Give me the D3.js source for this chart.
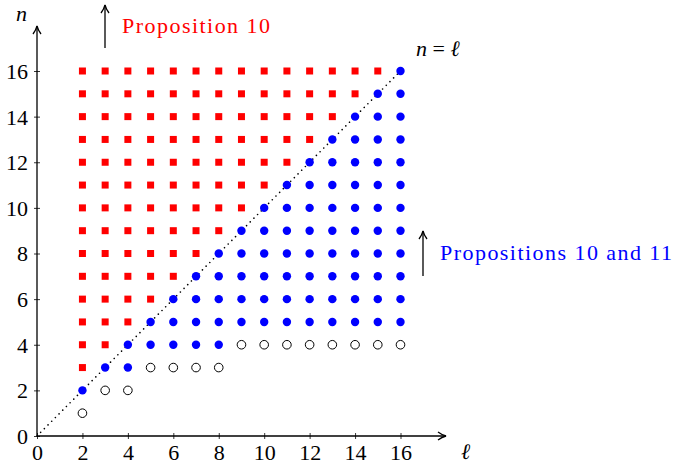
<!DOCTYPE html>
<html><head><meta charset="utf-8">
<script src="https://cdn.jsdelivr.net/npm/d3@7"></script>
<style>body{margin:0;background:#fff}svg{display:block}</style>
</head><body>
<div id="c"></div>
<script>
// Data
const ells      = [2,3,4,5,6,7,8,9,10,11,12,13,14,15,16];
const openN     = [1,2,2,3,3,3,3,4,4,4,4,4,4,4,4];        // open circles (one per ℓ)
const blueFrom  = [2,3,3,4,4,4,4,5,5,5,5,5,5,5,5];        // filled blue dots from ...
const blueTo    = [2,3,4,5,6,7,8,9,10,11,12,13,14,15,16]; // ... to n = ℓ
const redFrom   = [3,4,5,6,7,8,9,10,11,12,13,14,15,16,17]; // red squares from ...
const redTo     = 16;                                       // ... up to n = 16
const xTicks    = [0,2,4,6,8,10,12,14,16];
const yTicks    = [0,2,4,6,8,10,12,14,16];

const FONT="'Liberation Serif', 'DejaVu Serif', serif";
const W=673,H=466;
const svg=d3.select("#c").append("svg").attr("width",W).attr("height",H)
  .style("font-family",FONT,"important");
const x=d3.scaleLinear().domain([0,16]).range([37,400.5]);
const y=d3.scaleLinear().domain([0,16]).range([436,71]);

const defs=svg.append("defs");
defs.append("marker").attr("id","ah").attr("viewBox","0 0 10 10").attr("refX",9).attr("refY",5)
  .attr("markerWidth",10).attr("markerHeight",10).attr("markerUnits","userSpaceOnUse").attr("orient","auto")
  .append("path").attr("d","M1,1 Q5,4 9,5 Q5,6 1,9").attr("fill","none").attr("stroke","#000").attr("stroke-width",1.3);

// build point lists
const red=[],blue=[],open=[];
ells.forEach((l,i)=>{
  for(let n=redFrom[i];n<=redTo;n++) red.push([l,n]);
  for(let n=blueFrom[i];n<=blueTo[i];n++) blue.push([l,n]);
  open.push([l,openN[i]]);
});

// diagonal n = ℓ
svg.append("line").attr("x1",x(0)).attr("y1",y(0)).attr("x2",x(16)).attr("y2",y(16))
  .attr("stroke","#000").attr("stroke-width",1.6).attr("stroke-dasharray","0.01 5.2").attr("stroke-linecap","round");

// axes
const xAxis=d3.axisBottom(x).tickValues(xTicks).tickSize(0).tickPadding(10);
const yAxis=d3.axisLeft(y).tickValues(yTicks).tickSize(0).tickPadding(10);
const gx=svg.append("g").attr("transform",`translate(0,${y(0)})`).call(xAxis);
const gy=svg.append("g").attr("transform",`translate(${x(0)},0)`).call(yAxis);
[gx,gy].forEach(g=>{g.attr("font-family",null).attr("font-size",null);g.select(".domain").remove();
  g.selectAll("text").attr("fill","#000");});
gx.selectAll("text").attr("dy","0.71em").attr("y",8);
gy.selectAll("text").attr("x",-9).attr("dy","0.34em");
// small tick marks
gx.selectAll(".tick").append("line").attr("y1",-3).attr("y2",3).attr("stroke","#000").attr("stroke-width",0.8);
gy.selectAll(".tick").append("line").attr("x1",-3).attr("x2",3).attr("stroke","#000").attr("stroke-width",0.8);

svg.append("line").attr("x1",x(0)).attr("y1",y(0)).attr("x2",446).attr("y2",y(0))
  .attr("stroke","#000").attr("stroke-width",1.3).attr("marker-end","url(#ah)");
svg.append("line").attr("x1",x(0)).attr("y1",y(0)).attr("x2",x(0)).attr("y2",26)
  .attr("stroke","#000").attr("stroke-width",1.3).attr("marker-end","url(#ah)");
svg.append("text").attr("x",461).attr("y",459).attr("font-style","italic").text("ℓ");
svg.append("text").attr("x",16).attr("y",21).attr("font-style","italic").text("n");

// marks
svg.append("g").selectAll("rect").data(red).join("rect")
  .attr("x",d=>x(d[0])-3.5).attr("y",d=>y(d[1])-3.5).attr("width",7).attr("height",7).attr("fill","#ff0000");
svg.append("g").selectAll("circle").data(blue).join("circle")
  .attr("cx",d=>x(d[0])).attr("cy",d=>y(d[1])).attr("r",4.2).attr("fill","#0000ff");
svg.append("g").selectAll("circle").data(open).join("circle")
  .attr("cx",d=>x(d[0])).attr("cy",d=>y(d[1])).attr("r",4.3).attr("fill","none").attr("stroke","#000").attr("stroke-width",1);

// annotations
svg.append("line").attr("x1",105).attr("y1",48).attr("x2",105).attr("y2",5)
  .attr("stroke","#000").attr("stroke-width",1.3).attr("marker-end","url(#ah)");
svg.append("text").attr("x",122).attr("y",33).attr("fill","#ff0000")
  .attr("textLength",148).attr("lengthAdjust","spacing").text("Proposition 10");
svg.append("line").attr("x1",423).attr("y1",276).attr("x2",423).attr("y2",231)
  .attr("stroke","#000").attr("stroke-width",1.3).attr("marker-end","url(#ah)");
svg.append("text").attr("x",440).attr("y",260).attr("fill","#0000ff")
  .attr("textLength",232).attr("lengthAdjust","spacing").text("Propositions 10 and 11");
const t=svg.append("text").attr("x",416).attr("y",56);
t.append("tspan").attr("font-style","italic").text("n");
t.append("tspan").text(" = ");
t.append("tspan").attr("font-style","italic").text("ℓ");

svg.selectAll("text").style("font-family",FONT,"important").style("font-size","22px","important");
</script></body></html>
